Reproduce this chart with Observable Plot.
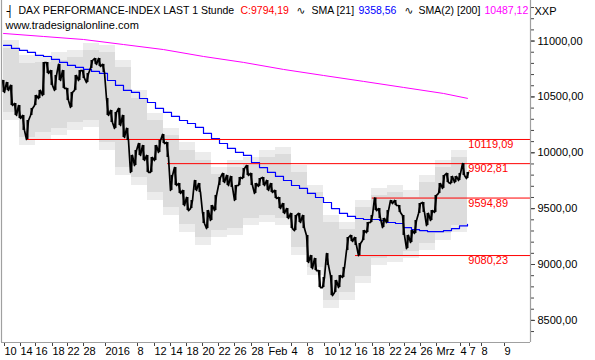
<!DOCTYPE html>
<html>
<head>
<meta charset="utf-8">
<script src="https://cdn.jsdelivr.net/npm/d3@7"></script>
<script src="https://cdn.jsdelivr.net/npm/@observablehq/plot@0.6"></script>
<style>
  html, body { margin: 0; padding: 0; background: #fff; }
  #chart svg { display: block; }
</style>
</head>
<body>
<div id="chart"></div>
<script>
// ---- Data ----
// Hourly price, summarised per half trading day (index i -> day i/2, day 0 = 10 Dec 2015)
const priceHigh = [
  10647,10629,10603,10441,10423,10334,10289,10397,10513,10558,
  10808,10808,10736,10692,10791,10736,10576,10540,10692,10736,
  10736,10710,10826,10844,10844,10791,10486,10379,10361,10397,
  10334,10218,9976,10021,10083,10065,9976,9958,10065,10110,
  10164,10092,9797,9868,9725,9663,9600,9573,9752,9725,
  9466,9483,9528,9618,9779,9815,9797,9788,9707,9779,
  9859,9886,9815,9725,9770,9779,9752,9725,9663,9600,
  9546,9501,9457,9439,9457,9439,9260,9080,9054,8946,
  8884,9098,8901,8857,8901,8973,9242,9260,9242,9188,
  9304,9376,9439,9595,9501,9412,9483,9573,9573,9528,
  9439,9260,9304,9394,9546,9555,9457,9483,9618,9725,
  9797,9815,9788,9788,9815,9903,9824
];
const priceLow = [
  10540,10558,10423,10334,10307,10200,10119,10334,10423,10486,
  10513,10710,10603,10558,10647,10576,10468,10406,10558,10647,
  10665,10629,10755,10791,10773,10718,10334,10271,10218,10244,
  10137,10110,9824,9886,9976,9931,9824,9824,9931,10003,
  10083,9958,9663,9707,9636,9528,9483,9501,9663,9645,
  9367,9322,9394,9483,9707,9734,9707,9690,9573,9707,
  9770,9797,9707,9636,9699,9707,9663,9645,9591,9501,
  9457,9412,9322,9304,9376,9322,9018,8964,8946,8794,
  8794,8991,8722,8749,8794,8884,9125,9206,9170,9080,
  9215,9286,9376,9483,9412,9331,9376,9546,9528,9466,
  9260,9143,9197,9278,9457,9466,9349,9394,9466,9636,
  9681,9734,9725,9734,9752,9797,9770
];

// SMA [21] (blue), one value per trading day 0..58
const sma21 = [
  10961,10934,10916,10898,10871,10862,10836,10809,10782,10764,
  10746,10728,10710,10647,10603,10558,10540,10486,10450,10397,
  10361,10325,10289,10262,10227,10173,10128,10083,10039,10003,
  9976,9913,9868,9824,9788,9752,9707,9681,9636,9600,
  9555,9501,9457,9430,9412,9403,9403,9394,9376,9367,
  9331,9313,9304,9295,9295,9304,9322,9345,9358.56
];

// SMA(2) [200] (magenta), sampled every 5 trading days
const sma200Days = [0,5,10,15,20,25,30,35,40,45,50,55,58];
const sma200 = [11068,11041,11014,10969,10924,10862,10809,10746,10692,10639,10585,10531,10487.12];

// Grey envelope, one step per 2 trading days (outer and inner band edges)
const bandOuterHigh = [11005,10871,10871,10898,10916,10979,10961,10826,10558,10352,10218,10092,10003,9868,9931,9958,10021,10047,9886,9707,9439,9376,9573,9681,9707,9663,9797,9931,10021];
const bandOuterLow  = [10289,10065,10110,10155,10200,10227,10021,9797,9707,9573,9439,9286,9170,9242,9260,9349,9376,9349,9080,8901,8606,8677,8830,8991,9018,9054,9125,9215,9286];
const bandInnerHigh = [10934,10799,10808,10826,10853,10916,10898,10764,10486,10289,10155,10021,9931,9806,9868,9895,9958,9985,9824,9645,9376,9313,9510,9618,9645,9600,9734,9868,9958];
const bandInnerLow  = [10361,10137,10182,10218,10271,10289,10092,9868,9779,9645,9510,9358,9242,9304,9322,9412,9439,9412,9152,8973,8677,8749,8892,9054,9080,9116,9188,9278,9349];

// Support / resistance levels and the trading day where each starts
const levelValues = [10119.09, 9902.81, 9594.89, 9080.23];
const levelStartDays = [2.875, 20.5, 46.1, 44];

// X-axis ticks (trading-day index) and labels
const xTickDays = [0,2,3.875,6,7.875,9.875,12.625,16.625,18.75,20.75,22.75,24.75,26.75,28.75,30.875,33,35.875,37.875,40,41.875,43.875,46,48.125,50,52,54,57,58.125,59.625,62.5];
const xTickLabels = ["10","14","16","18","22","28","2016","8","12","14","18","20","22","26","28","Feb","4","8","10","12","16","18","22","24","26","Mrz","4","7","8","9"];

// Y-axis ticks
const yTicks = [8500, 9000, 9500, 10000, 10500, 11000];

// Legend texts
const titleText = "DAX PERFORMANCE-INDEX LAST 1 Stunde";
const closeText = "C:9794,19";
const sma21Name = "SMA [21]";
const sma21Last = "9358,56";
const sma200Name = "SMA(2) [200]";
const sma200Last = "10487,12";
const symbolText = "XXP";
const siteText = "www.tradesignalonline.com";

// ---- Build tables ----
const fmt = v => v.toFixed(2).replace(".", ",");
const halfDays = priceHigh.map((h, i) => ({d: i / 2, hi: h, lo: priceLow[i]}));
const pricePath = [];
halfDays.forEach((r, i) => {
  const mid = (r.hi + r.lo) / 2;
  const next = halfDays[i + 1];
  const rising = next ? (next.hi + next.lo) / 2 > mid : true;
  pricePath.push({d: r.d - 0.125, v: rising ? r.lo : r.hi});
  pricePath.push({d: r.d + 0.125, v: rising ? r.hi : r.lo});
});
const blueRows = sma21.map((v, i) => ({d: i, v}));
const magentaRows = sma200.map((v, i) => ({d: sma200Days[i], v}));
const bandRows = bandOuterHigh.map((h, k) => ({d: 2 * k, oh: h, ol: bandOuterLow[k], ih: bandInnerHigh[k], il: bandInnerLow[k]}));
bandRows.push({...bandRows[bandRows.length - 1], d: 2 * bandRows.length});
const levels = levelValues.map((v, i) => ({v, start: levelStartDays[i]}));
const labelOf = new Map(xTickDays.map((d, i) => [d, xTickLabels[i]]));

const X_DOMAIN = [-0.25, 65.875];
const Y_DOMAIN = [8302, 11363];
const LABEL_DAY = 58.1;
const RED = "#ff0000";
const GRID = "#a0a0a0";

function legend(text, x, y, color, extra = {}) {
  return Plot.text([text], {
    frameAnchor: "top-left", dx: x - 1, dy: y, text: d => d,
    fill: color, textAnchor: "start", lineAnchor: "middle", fontSize: 10.5, ...extra
  });
}

const chart = Plot.plot({
  width: 595,
  height: 360,
  marginTop: 0,
  marginLeft: 1,
  marginRight: 65,
  marginBottom: 18,
  style: {fontFamily: "'Liberation Sans', Arial, sans-serif", fontSize: "11px", background: "#fff", color: "#000"},
  x: {domain: X_DOMAIN, axis: null},
  y: {domain: Y_DOMAIN, axis: null},
  marks: [
    Plot.areaY(bandRows, {x: "d", y1: "ol", y2: "oh", curve: "step-after", fill: "#ececec"}),
    Plot.areaY(bandRows, {x: "d", y1: "il", y2: "ih", curve: "step-after", fill: "#dcdcdc"}),
    Plot.line(magentaRows, {x: "d", y: "v", stroke: "#ff00ff", strokeWidth: 1}),
    Plot.line(blueRows, {x: "d", y: "v", curve: "step-after", stroke: "#0000ff", strokeWidth: 1.2}),
    Plot.ruleY(levels, {y: "v", x1: "start", x2: () => X_DOMAIN[1], stroke: RED, strokeWidth: 1}),
    Plot.ruleX(halfDays, {x: "d", y1: "lo", y2: "hi", stroke: "#000", strokeWidth: 2}),
    Plot.line(pricePath, {x: "d", y: "v", stroke: "#000", strokeWidth: 1.7}),
    Plot.text(levels, {x: () => LABEL_DAY, y: "v", text: d => fmt(d.v), fill: RED, textAnchor: "start", lineAnchor: "top", dy: 1, fontSize: 11}),
    // axes
    Plot.axisY({anchor: "right", ticks: d3.range(8400, 11400, 100), tickFormat: () => "", tickSize: 3, stroke: "#444"}),
    Plot.axisY({anchor: "right", ticks: yTicks, tickFormat: fmt, tickSize: 4, tickPadding: 3, fontSize: 11, fill: "#000", stroke: "#444"}),
    Plot.axisX({anchor: "bottom", ticks: xTickDays, tickFormat: d => labelOf.get(d), tickSize: 4, tickPadding: 1, textAnchor: "start", dx: 1, fontSize: 11, fill: "#000", stroke: "#444"}),
    // frame lines
    Plot.ruleX([X_DOMAIN[0], X_DOMAIN[1]], {stroke: GRID, strokeWidth: 1.2}),
    Plot.ruleY([Y_DOMAIN[0]], {stroke: GRID, strokeWidth: 1.2}),
    // legend
    legend("┤", 6, 10.5, "#000", {fontFamily: "DejaVu Sans", fontSize: 11}),
    legend(titleText, 18, 10.5, "#000"),
    legend(closeText, 240, 10.5, "#ff0000"),
    legend("∿", 296, 10.5, "#000", {fontFamily: "DejaVu Sans"}),
    legend(sma21Name, 311, 10.5, "#000"),
    legend(sma21Last, 358, 10.5, "#0000ff"),
    legend("∿", 404, 10.5, "#000", {fontFamily: "DejaVu Sans"}),
    legend(sma200Name, 418, 10.5, "#000"),
    legend(sma200Last, 484, 10.5, "#ff00ff"),
    legend(symbolText, 534, 10.5, "#000", {fontSize: 11}),
    legend(siteText, 5, 25, "#000", {fontSize: 11})
  ]
});
document.getElementById("chart").append(chart);
</script>
</body>
</html>
